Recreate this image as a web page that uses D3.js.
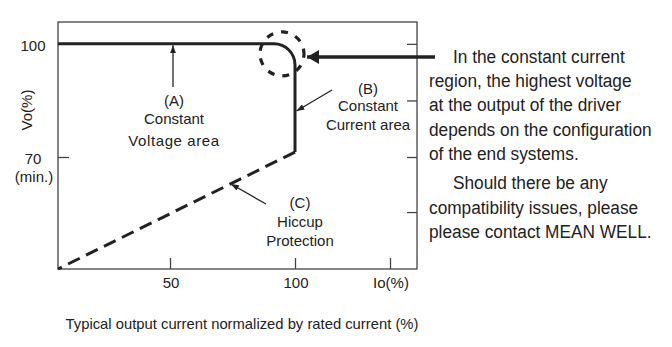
<!DOCTYPE html>
<html><head><meta charset="utf-8">
<script src="https://cdn.jsdelivr.net/npm/d3@7"></script>
<style>
html,body{margin:0;padding:0;background:#fff;}
text{font-family:"Liberation Sans",Arial,sans-serif;fill:#222;}
</style></head>
<body>
<svg id="c" width="672" height="347"></svg>
<script>
// ---- data ----
const ioTickValues = [50, 100, 138];
const ioTickLabels = ["50", "100", "Io(%)"];
const voTickValues = [100, 70];
const voTickLabels = ["100", "70"];
const rightTickValues = [100, 85, 70, 55.4];
const cvPoints = [[5.2, 100], [100, 100], [100, 71.3]];      // constant voltage / constant current
const hiccupPoints = [[100, 71.3], [5.2, 40.3]];             // hiccup protection
const noteLines = [
  "In the constant current", "region, the highest voltage", "at the output of the driver",
  "depends on the configuration", "of the end systems.",
  "Should there be any", "compatibility issues, please", "please contact MEAN WELL."
];
const xTitle = "Typical output current normalized by rated current (%)";
const yTitle = "Vo(%)";

// ---- scales ----
const svg = d3.select("#c");
const x = d3.scaleLinear().domain([5.2, 148.8]).range([58, 417]);
const y = d3.scaleLinear().domain([40.3, 105.8]).range([269, 22]);
const ink = "#222";

const defs = svg.append("defs");
function marker(id, w, h) {
  defs.append("marker").attr("id", id).attr("viewBox", `0 0 ${w} ${h}`)
    .attr("refX", w).attr("refY", h / 2).attr("markerWidth", w).attr("markerHeight", h)
    .attr("markerUnits", "userSpaceOnUse").attr("orient", "auto")
    .append("path").attr("d", `M0,0L${w},${h/2}L0,${h}Z`).attr("fill", ink);
}
marker("big", 12, 14);
marker("small", 8, 6);

// frame
svg.append("rect").attr("x", x.range()[0]).attr("y", y.range()[1])
  .attr("width", x.range()[1] - x.range()[0]).attr("height", y.range()[0] - y.range()[1])
  .attr("fill", "none").attr("stroke", "#444").attr("stroke-width", 1.3);

// bottom ticks (inward)
const xAxis = d3.axisTop(x).tickValues(ioTickValues).tickSize(11).tickFormat("");
svg.append("g").attr("transform", `translate(0,${y.range()[0]})`).call(xAxis)
  .call(g => g.select(".domain").remove())
  .selectAll("line").attr("stroke", "#444").attr("stroke-width", 1.3);
svg.selectAll(".xl").data(ioTickValues).join("text")
  .attr("x", d => x(d) + 1).attr("y", 288).attr("text-anchor", "middle")
  .attr("font-size", 15).text((d, i) => ioTickLabels[i]);

// left ticks (inward)
svg.append("g").attr("transform", `translate(${x.range()[0]},0)`)
  .call(d3.axisRight(y).tickValues([70]).tickSize(11).tickFormat(""))
  .call(g => g.select(".domain").remove())
  .selectAll("line").attr("stroke", "#444").attr("stroke-width", 1.3);
svg.selectAll(".yl").data(voTickValues).join("text")
  .attr("x", 33).attr("y", d => y(d) + 7).attr("text-anchor", "middle")
  .attr("font-size", 15).text((d, i) => voTickLabels[i]);
svg.append("text").attr("x", 34).attr("y", y(70) + 25).attr("text-anchor", "middle")
  .attr("font-size", 15).text("(min.)");
svg.append("text").attr("transform", `translate(32,110) rotate(-90)`).attr("text-anchor", "middle")
  .attr("font-size", 15).text(yTitle);

// right ticks (inward)
svg.append("g").attr("transform", `translate(${x.range()[1]},0)`)
  .call(d3.axisLeft(y).tickValues(rightTickValues).tickSize(10).tickFormat(""))
  .call(g => g.select(".domain").remove())
  .selectAll("line").attr("stroke", "#444").attr("stroke-width", 1.3);

// constant voltage / current curve with rounded corner
const r = 21;
const [p0, pc, p2] = cvPoints;
const cv = d3.path();
cv.moveTo(x(p0[0]), y(p0[1]));
cv.arcTo(x(pc[0]), y(pc[1]), x(p2[0]), y(p2[1]), r);
cv.lineTo(x(p2[0]), y(p2[1]));
svg.append("path").attr("d", cv.toString()).attr("fill", "none")
  .attr("stroke", ink).attr("stroke-width", 3);

// hiccup dashed line
svg.append("path").attr("d", d3.line().x(d => x(d[0])).y(d => y(d[1]))(hiccupPoints))
  .attr("fill", "none").attr("stroke", ink).attr("stroke-width", 3)
  .attr("stroke-dasharray", "13,7");

// dashed circle around knee
svg.append("circle").attr("cx", x(100) - 13).attr("cy", y(100) + 10).attr("r", 22)
  .attr("fill", "none").attr("stroke", ink).attr("stroke-width", 3.2)
  .attr("stroke-dasharray", "7,8").attr("stroke-dashoffset", 3);

// big arrow from note
svg.append("line").attr("x1", 435).attr("y1", 57).attr("x2", 307).attr("y2", 57)
  .attr("stroke", ink).attr("stroke-width", 3.5).attr("marker-end", "url(#big)");

// annotation arrows
svg.append("line").attr("x1", 173).attr("y1", 87).attr("x2", 173).attr("y2", y(100) + 1.5)
  .attr("stroke", ink).attr("stroke-width", 1.3).attr("marker-end", "url(#small)");
svg.append("line").attr("x1", 332).attr("y1", 90).attr("x2", x(100) + 1.5).attr("y2", 111)
  .attr("stroke", ink).attr("stroke-width", 1.3).attr("marker-end", "url(#small)");
svg.append("line").attr("x1", 266).attr("y1", 204).attr("x2", 231).attr("y2", 184)
  .attr("stroke", ink).attr("stroke-width", 1.3).attr("marker-end", "url(#small)");

// annotation labels
function label(cx, ys, lines, spacing) {
  lines.forEach((t, i) => svg.append("text").attr("x", cx).attr("y", ys[i])
    .attr("text-anchor", "middle").attr("font-size", 15)
    .attr("letter-spacing", spacing ? spacing[i] : 0).text(t));
}
label(174, [106, 124, 146], ["(A)", "Constant", "Voltage area"], [0, 0, 0.6]);
label(368, [94, 111, 130], ["(B)", "Constant", "Current area"]);
label(300, [208, 227, 246], ["(C)", "Hiccup", "Protection"]);

// x title
svg.append("text").attr("x", 242).attr("y", 329).attr("text-anchor", "middle")
  .attr("font-size", 14.8).text(xTitle);

// note text
const noteX = [453, 429, 429, 429, 429, 453, 429, 429];
const noteY = [63, 87, 111, 136, 160, 189, 214, 238];
noteLines.forEach((t, i) => svg.append("text")
  .attr("transform", `translate(${noteX[i]},${noteY[i]}) scale(0.96,1)`)
  .attr("font-size", 18).text(t));
</script>
</body></html>
